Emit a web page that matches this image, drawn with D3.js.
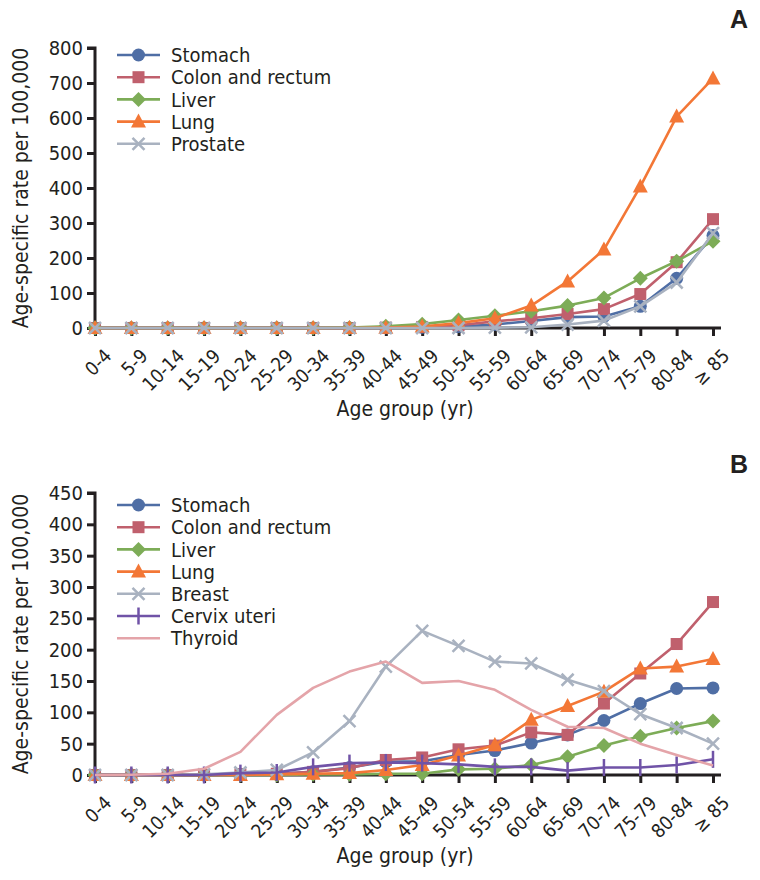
<!DOCTYPE html>
<html><head><meta charset="utf-8">
<script src="https://cdn.jsdelivr.net/npm/d3@7"></script>
<style>
body{margin:0;background:#fff;}
text{font-family:"Liberation Sans Narrow","DejaVu Sans Condensed","Roboto Condensed",sans-serif;fill:#231f20;}
</style></head>
<body><svg id="chart" width="760" height="880"></svg>
<script>
const ages = ["0-4","5-9","10-14","15-19","20-24","25-29","30-34","35-39","40-44","45-49","50-54","55-59","60-64","65-69","70-74","75-79","80-84","\u2265 85"];

// Panel A
const stomachA  = [0,0,0,0,0,0,0,0,1,2,4,10,20,31,33,62,142,264];
const colonA    = [0,0,0,0,0,0,0,0,1,3,8,19,28,40,54,97,188,311];
const liverA    = [0,0,0,0,0,0,0,1,5,11,23,35,48,64,86,142,191,248];
const lungA     = [0,0,0,0,0,0,0,0,1,4,14,28,64,133,224,404,604,713];
const prostateA = [0,0,0,0,0,0,0,0,0,0,0,1,2,10,21,62,130,271];
const ticksA = [0,100,200,300,400,500,600,700,800];

// Panel B
const stomachB = [0,0,0,0,1,2,5,12,21,22,32,39,51,64,87,114,138,139];
const colonB   = [0,0,0,0,1,2,5,11,24,28,41,47,68,64,114,162,209,276];
const liverB   = [0,0,0,0,0,0,1,1,2,2,9,10,16,29,47,62,75,86];
const lungB    = [0,0,0,0,0,1,2,3,8,16,31,48,88,110,133,170,173,185];
const breastB  = [0,0,0,1,4,8,36,86,173,230,206,181,178,152,134,97,75,50];
const cervixB  = [0,0,0,0,3,4,13,19,20,19,17,13,13,7,12,12,16,25];
const thyroidB = [0,0.5,2,10,37,96,139,165,181,147,150,136,104,77,75,50,32,15];
const ticksB = [0,50,100,150,200,250,300,350,400,450];

const C = {stomach:"#4f6ea5", colon:"#c0606d", liver:"#7dac57", lung:"#f37736", gray:"#a9b2c0", cervix:"#7053a7", thyroid:"#e4a4a9"};

const seriesA = [
  {name:"Stomach", values:stomachA, color:C.stomach, marker:"circle"},
  {name:"Colon and rectum", values:colonA, color:C.colon, marker:"square"},
  {name:"Liver", values:liverA, color:C.liver, marker:"diamond"},
  {name:"Lung", values:lungA, color:C.lung, marker:"triangle"},
  {name:"Prostate", values:prostateA, color:C.gray, marker:"x"}
];
const seriesB = [
  {name:"Stomach", values:stomachB, color:C.stomach, marker:"circle"},
  {name:"Colon and rectum", values:colonB, color:C.colon, marker:"square"},
  {name:"Liver", values:liverB, color:C.liver, marker:"diamond"},
  {name:"Lung", values:lungB, color:C.lung, marker:"triangle"},
  {name:"Breast", values:breastB, color:C.gray, marker:"x"},
  {name:"Cervix uteri", values:cervixB, color:C.cervix, marker:"plus"},
  {name:"Thyroid", values:thyroidB, color:C.thyroid, marker:"none"}
];

const svg = d3.select("#chart");

function drawMarker(g, type, color){
  if(type==="circle") g.append("circle").attr("r",6.5).attr("fill",color);
  else if(type==="square") g.append("rect").attr("x",-6).attr("y",-6).attr("width",12).attr("height",12).attr("fill",color);
  else if(type==="diamond") g.append("path").attr("d","M0,-7.5L7.5,0L0,7.5L-7.5,0Z").attr("fill",color);
  else if(type==="triangle") g.append("path").attr("d","M0,-8L7.5,6L-7.5,6Z").attr("fill",color);
  else if(type==="x") g.append("path").attr("d","M-6,-6L6,6M-6,6L6,-6").attr("stroke",color).attr("stroke-width",2.5).attr("fill","none");
  else if(type==="plus") g.append("path").attr("d","M0,-8.5L0,8.5").attr("stroke",color).attr("stroke-width",2.5).attr("fill","none");
}

function panel(cfg){
  const g = svg.append("g");
  const x = d3.scalePoint().domain(ages).range([95,713]);
  const y = d3.scaleLinear().domain([0, cfg.max]).range([cfg.y0, cfg.yTop]);

  // y axis
  const ya = g.append("g").attr("transform","translate(95,0)")
    .call(d3.axisLeft(y).tickValues(cfg.ticks).tickSize(8).tickPadding(4).tickFormat(d3.format("d")));
  ya.select(".domain").attr("stroke","#231f20").attr("stroke-width",3).attr("d",`M-8,${cfg.yTop}H0V${cfg.y0}`);
  ya.selectAll(".tick line").attr("stroke","#231f20").attr("stroke-width",3);
  ya.selectAll(".tick text").attr("font-size",20).attr("fill","#231f20");

  // x axis
  const xa = g.append("g").attr("transform",`translate(0,${cfg.y0})`)
    .call(d3.axisBottom(x).tickSize(8).tickPadding(4));
  xa.select(".domain").attr("stroke","#231f20").attr("stroke-width",3).attr("d","M95,0H721");
  xa.selectAll(".tick line").attr("stroke","#231f20").attr("stroke-width",3);
  xa.selectAll(".tick text").attr("font-size",19).attr("fill","#231f20")
    .attr("text-anchor","end").attr("dy","0.35em")
    .attr("transform","translate(4,16) rotate(-45)");

  // axis titles
  g.append("text").attr("x",405).attr("y",cfg.y0+88).attr("text-anchor","middle").attr("font-size",21).text("Age group (yr)");
  g.append("text").attr("transform",`translate(28,${(cfg.y0+cfg.yTop)/2}) rotate(-90)`).attr("text-anchor","middle").attr("font-size",21).text("Age-specific rate per 100,000");
  g.append("text").attr("x",748).attr("y",cfg.yTop-20).attr("text-anchor","end").attr("font-size",25).attr("font-weight","bold")
    .style("font-family","'Liberation Sans','DejaVu Sans',sans-serif").text(cfg.label);

  // series
  const line = d3.line().x((d,i)=>x(ages[i])).y(d=>y(d));
  cfg.series.forEach(s=>{
    const sg = g.append("g");
    sg.append("path").attr("d",line(s.values)).attr("fill","none").attr("stroke",s.color).attr("stroke-width",2.6).attr("stroke-linejoin","round");
    if(s.marker!=="none"){
      s.values.forEach((v,i)=>{
        const mg = sg.append("g").attr("transform",`translate(${x(ages[i])},${y(v)})`);
        drawMarker(mg, s.marker, s.color);
      });
    }
  });

  // legend
  const lg = g.append("g");
  cfg.series.forEach((s,i)=>{
    const ly = cfg.legY + i*22.2;
    lg.append("line").attr("x1",117).attr("x2",160).attr("y1",ly).attr("y2",ly).attr("stroke",s.color).attr("stroke-width",2.6);
    if(s.marker!=="none"){
      const mg = lg.append("g").attr("transform",`translate(138.5,${ly})`);
      drawMarker(mg, s.marker, s.color);
    }
    lg.append("text").attr("x",171).attr("y",ly).attr("dy","0.36em").attr("font-size",20).text(s.name);
  });
}

panel({max:800, ticks:ticksA, y0:328, yTop:48, series:seriesA, legY:55, label:"A"});
panel({max:450, ticks:ticksB, y0:775, yTop:493, series:seriesB, legY:505, label:"B"});
</script></body></html>
